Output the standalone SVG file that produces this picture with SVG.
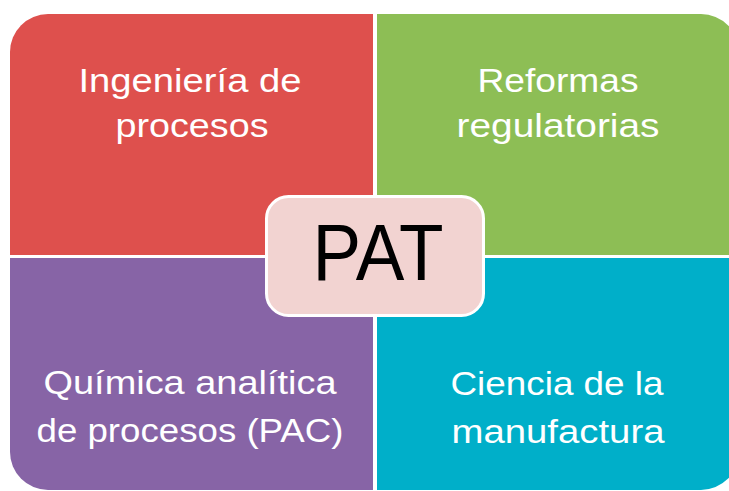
<svg xmlns="http://www.w3.org/2000/svg" width="729" height="491" viewBox="0 0 729 491">
  <style>
    .q { stroke: none; }
    .t { font-family: "Liberation Sans", Arial, sans-serif; font-size: 34px; fill: #ffffff; text-anchor: middle; }
    .pat { font-family: "Liberation Sans", Arial, sans-serif; font-size: 80px; fill: #000000; text-anchor: middle; }
  </style>
  <rect width="729" height="491" fill="#ffffff"/>
  <g id="ingenieria">
    <path class="q" fill="#DE504D" d="M10,52 A38,38 0 0 1 48,14 H373 V255 H10 Z"/>
    <text class="t" x="190" y="92" textLength="223" lengthAdjust="spacingAndGlyphs">Ingeniería de</text>
    <text class="t" x="192" y="137" textLength="153" lengthAdjust="spacingAndGlyphs">procesos</text>
  </g>
  <g id="reformas">
    <path class="q" fill="#8DBE55" d="M377,14 H701 A38,38 0 0 1 739,52 V255 H377 Z"/>
    <text class="t" x="558" y="92" textLength="161" lengthAdjust="spacingAndGlyphs">Reformas</text>
    <text class="t" x="558" y="137" textLength="203" lengthAdjust="spacingAndGlyphs">regulatorias</text>
  </g>
  <g id="quimica">
    <path class="q" fill="#8764A6" d="M10,258 H373 V490 H48 A38,38 0 0 1 10,452 Z"/>
    <text class="t" x="190" y="394" textLength="293" lengthAdjust="spacingAndGlyphs">Química analítica</text>
    <text class="t" x="190" y="442" textLength="307" lengthAdjust="spacingAndGlyphs">de procesos (PAC)</text>
  </g>
  <g id="ciencia">
    <path class="q" fill="#00AFC9" d="M377,258 H739 V452 A38,38 0 0 1 701,490 H377 Z"/>
    <text class="t" x="557" y="395" textLength="213" lengthAdjust="spacingAndGlyphs">Ciencia de la</text>
    <text class="t" x="558" y="443" textLength="213" lengthAdjust="spacingAndGlyphs">manufactura</text>
  </g>
  <g id="pat">
    <rect x="266.5" y="196.5" width="217" height="119" rx="22" ry="22" fill="#F2D3D1" stroke="#ffffff" stroke-width="3"/>
    <text class="pat" x="378" y="280" textLength="131" lengthAdjust="spacingAndGlyphs">PAT</text>
  </g>
</svg>
